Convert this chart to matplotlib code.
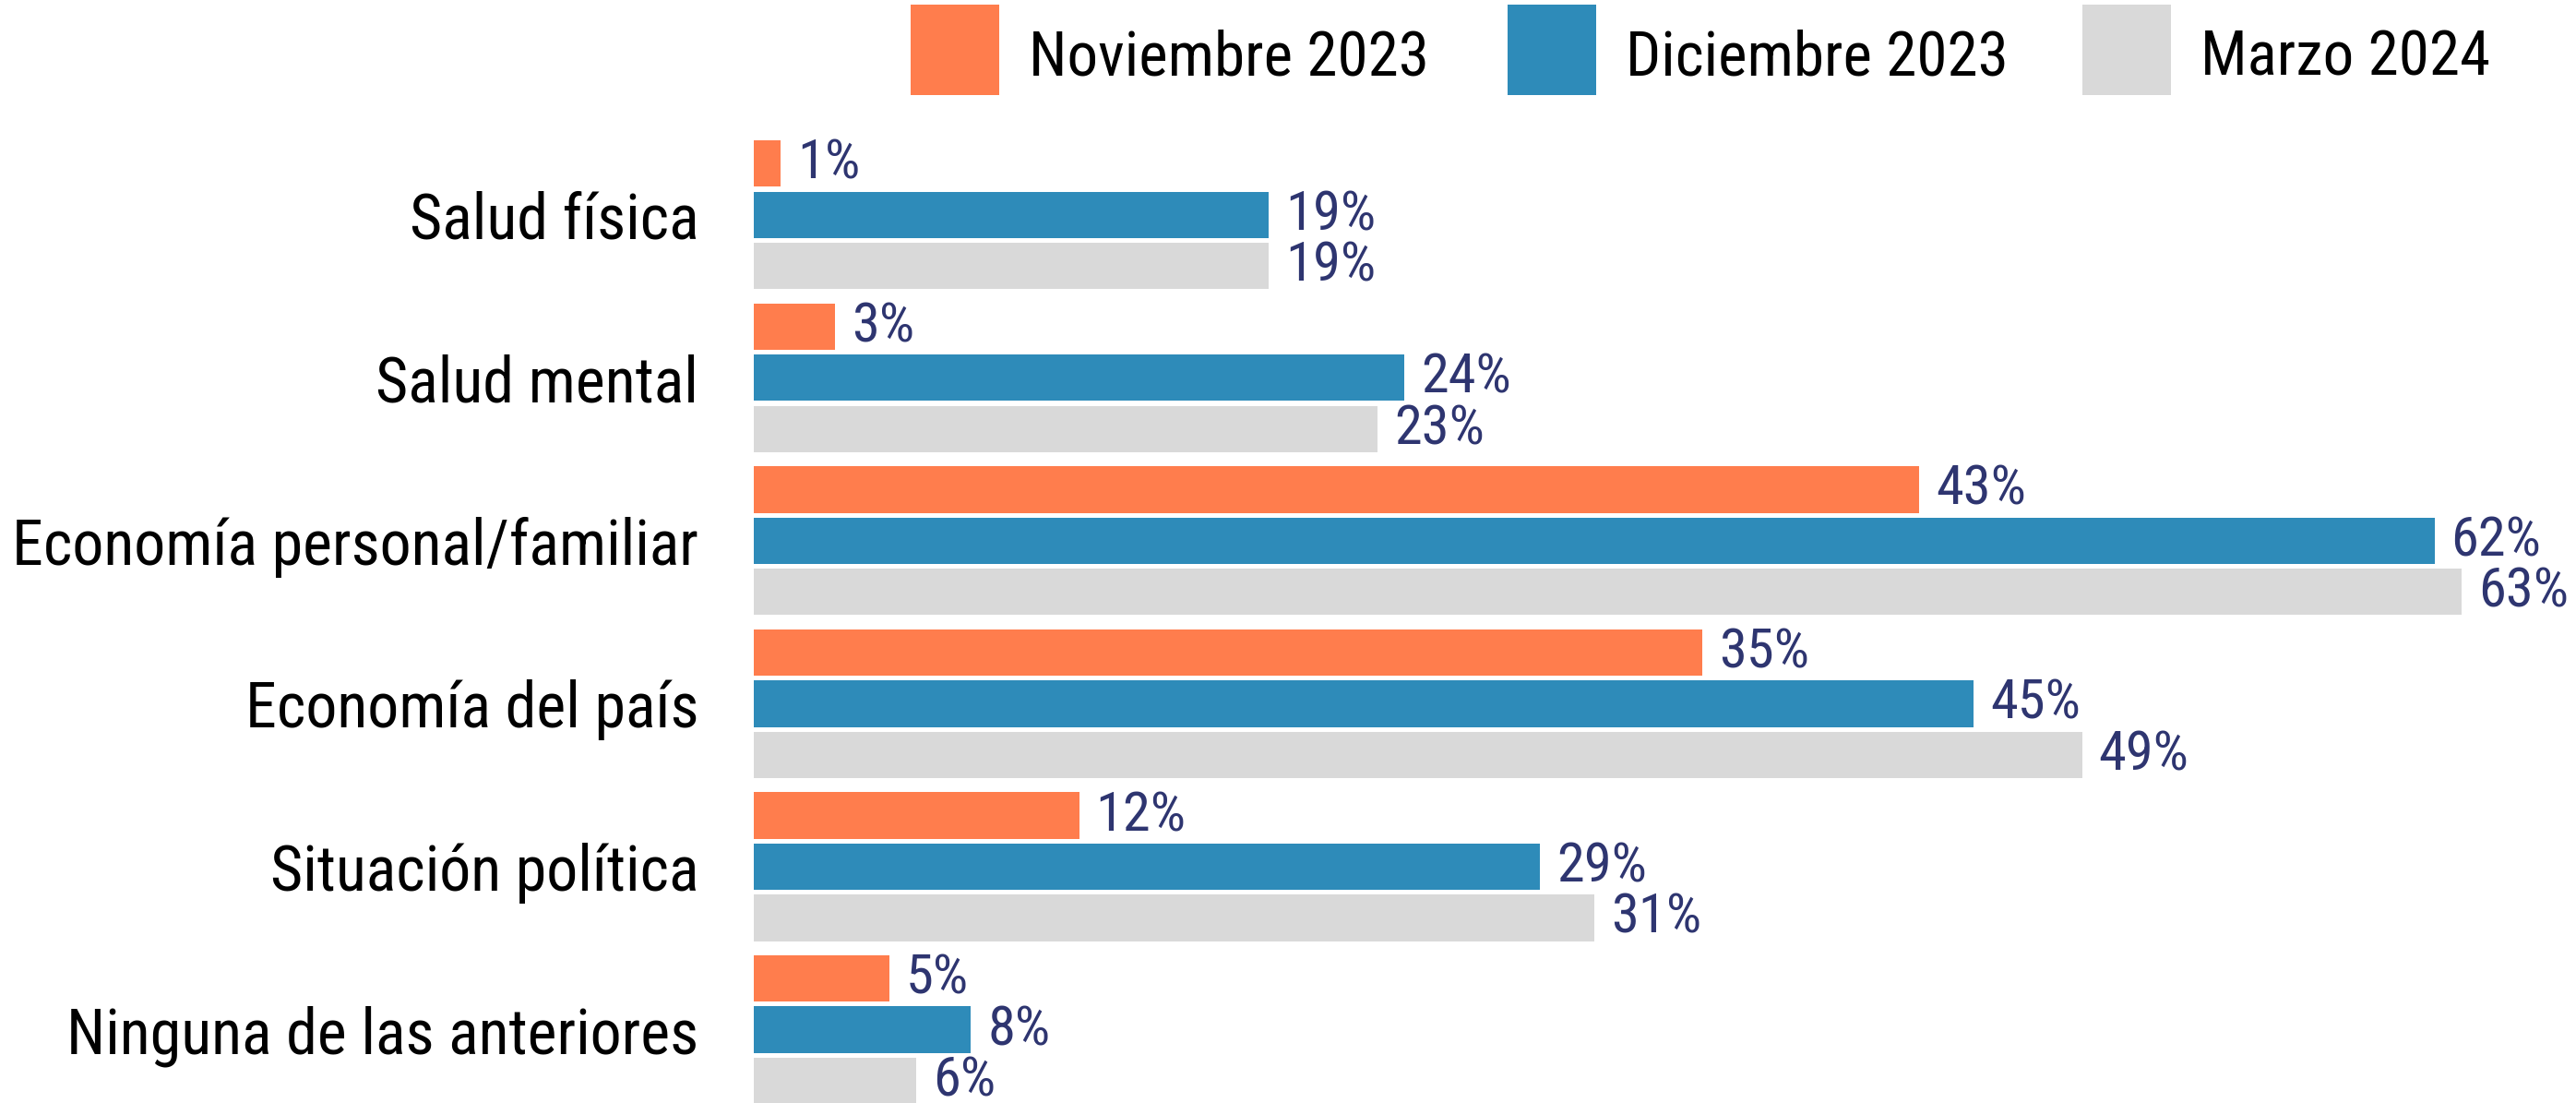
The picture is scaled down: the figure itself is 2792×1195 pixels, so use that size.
import matplotlib
matplotlib.use("Agg")
import matplotlib.pyplot as plt
from matplotlib import font_manager
from matplotlib.patches import Rectangle
import numpy as np

# Data
categories = ["Salud física", "Salud mental", "Economía personal/familiar",
              "Economía del país", "Situación política", "Ninguna de las anteriores"]
series_names = ["Noviembre 2023", "Diciembre 2023", "Marzo 2024"]
nov_2023 = [1, 3, 43, 35, 12, 5]
dic_2023 = [19, 24, 62, 45, 29, 8]
mar_2024 = [19, 23, 63, 49, 31, 6]

colors = ["#FF7D4D", "#2E8BB9", "#D9D9D9"]
label_color = "#2E3570"

# The original uses a narrow font: take a condensed face if one is installed
preferred = ["Liberation Sans Narrow", "Roboto Condensed", "Open Sans Condensed",
             "Noto Sans", "DejaVu Sans", "Open Sans", "Roboto", "Lato", "Inter"]
condensed = [f for f in font_manager.fontManager.ttflist
             if f.stretch in ("condensed", "semi-condensed", "extra-condensed")
             and f.style == "normal" and str(f.weight) in ("400", "normal", "regular")]
family, stretch = "DejaVu Sans", "normal"
for name in preferred:
    hits = [f for f in condensed if f.name == name]
    if hits:
        family, stretch = name, hits[0].stretch
        break
if "Liberation Sans Narrow" in {f.name for f in font_manager.fontManager.ttflist}:
    family, stretch = "Liberation Sans Narrow", "normal"
plt.rcParams["font.family"] = [family, "DejaVu Sans"]
plt.rcParams["font.stretch"] = stretch

fig = plt.figure(figsize=(27.92, 11.95), dpi=100)
renderer = fig.canvas.get_renderer()


def fit_size(text, target_px, max_pt):
    t = fig.text(0, 0, text, fontsize=100)
    w = t.get_window_extent(renderer).width
    t.remove()
    return min(max_pt, 100 * target_px / w)


cat_size = fit_size("Economía personal/familiar", 745, 52)
leg_size = fit_size("Noviembre 2023", 434, 52)
val_size = fit_size("62%", 98, 44)

ax = fig.add_axes([817 / 2792, 0, 1975 / 2792, 1])

y = np.arange(len(categories))
offset = 0.314
height = 0.285

for i, (vals, name) in enumerate(zip([nov_2023, dic_2023, mar_2024], series_names)):
    bars = ax.barh(y + (i - 1) * offset, vals, height=height, color=colors[i], label=name)
    ax.bar_label(bars, labels=[f"{v}%" for v in vals], padding=13,
                 fontsize=val_size, color=label_color, clip_on=False)

ax.set_xlim(0, 1975 / 29.38)
ax.set_ylim(5.45, -1.318)
ax.set_yticks(y)
ax.set_yticklabels(categories, fontsize=cat_size, color="black")
ax.tick_params(axis="y", length=0, pad=43)
ax.set_xticks([])
for s in ax.spines.values():
    s.set_visible(False)

# Legend row across the top
W, H = 2792, 1195
box_x = [987, 1634, 2257]
for x0, c, name in zip(box_x, colors, series_names):
    fig.add_artist(Rectangle((x0 / W, 1 - 103 / H), 96 / W, 98 / H, facecolor=c,
                             edgecolor="none", transform=fig.transFigure))
    fig.text((x0 + 128) / W, 1 - 82 / H, name, fontsize=leg_size, color="black",
             ha="left", va="baseline")

fig.savefig("out.png", dpi=100)
